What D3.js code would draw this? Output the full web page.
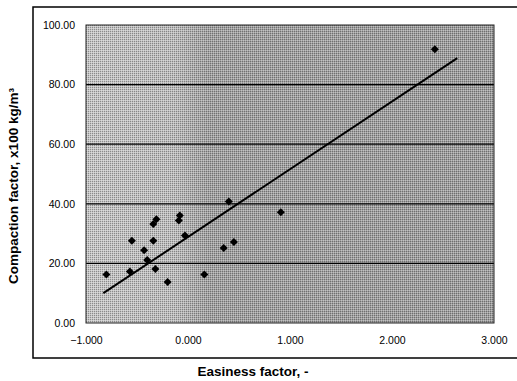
<!DOCTYPE html>
<html>
<head>
<meta charset="utf-8">
<script src="https://cdn.jsdelivr.net/npm/d3@7"></script>
<style>
  body { margin: 0; background: #fff; }
  text { font-family: "Liberation Sans", Arial, sans-serif; }
</style>
</head>
<body>
<div id="chart"></div>
<script>
// measured points (easiness factor, compaction factor)
const easiness = [-0.80, -0.55, -0.57, -0.43, -0.40, -0.34, -0.34, -0.31, -0.32, -0.20,
                  -0.09, -0.08, -0.03, 0.16, 0.35, 0.45, 0.40, 0.91, 2.42];
const compaction = [16.3, 27.6, 17.3, 24.4, 21.1, 27.6, 33.2, 34.8, 18.1, 13.8,
                    34.4, 36.1, 29.4, 16.3, 25.2, 27.2, 40.8, 37.2, 91.9];
// trend line end points
const fitX = [-0.83, 2.64];
const fitY = [10.0, 88.9];
const xTicks = [-1, 0, 1, 2, 3];
const yTicks = [0, 20, 40, 60, 80, 100];

const width = 517, height = 381;
const margin = { top: 25, right: 23, bottom: 58, left: 86 };
const w = width - margin.left - margin.right;
const h = height - margin.top - margin.bottom;

const svg = d3.select('#chart').append('svg')
  .attr('width', width)
  .attr('height', height);

// outer frame (right side runs off the page)
svg.append('rect')
  .attr('x', 33).attr('y', 7)
  .attr('width', 500).attr('height', 351)
  .attr('fill', 'none')
  .attr('stroke', '#000')
  .attr('stroke-width', 1.5);

const defs = svg.append('defs');
const grad = defs.append('linearGradient').attr('id', 'bg');
grad.append('stop').attr('offset', '0%').attr('stop-color', '#c8c8c8');
grad.append('stop').attr('offset', '22%').attr('stop-color', '#bdbdbd');
grad.append('stop').attr('offset', '30%').attr('stop-color', '#a2a2a2');
grad.append('stop').attr('offset', '100%').attr('stop-color', '#9e9e9e');

const pat = defs.append('pattern').attr('id', 'dither')
  .attr('width', 2).attr('height', 2)
  .attr('patternUnits', 'userSpaceOnUse');
pat.append('rect').attr('width', 1).attr('height', 1).attr('fill', '#000').attr('opacity', 0.3);
pat.append('rect').attr('x', 1).attr('y', 1).attr('width', 1).attr('height', 1).attr('fill', '#fff').attr('opacity', 0.35);

const chart = svg.append('g')
  .attr('transform', `translate(${margin.left}, ${margin.top})`);

const x = d3.scaleLinear().domain([-1, 3]).range([0, w]);
const y = d3.scaleLinear().domain([0, 100]).range([h, 0]);

chart.append('rect')
  .attr('width', w).attr('height', h)
  .attr('fill', 'url(#bg)');
chart.append('rect')
  .attr('width', w).attr('height', h)
  .attr('fill', 'url(#dither)');

// gridlines
chart.selectAll('.grid')
  .data(yTicks.filter(d => d > 0 && d < 100))
  .enter().append('line')
  .attr('class', 'grid')
  .attr('x1', 0).attr('x2', w)
  .attr('y1', d => y(d)).attr('y2', d => y(d))
  .attr('stroke', '#000')
  .attr('stroke-width', 1.2);

chart.append('rect')
  .attr('width', w).attr('height', h)
  .attr('fill', 'none')
  .attr('stroke', '#222')
  .attr('stroke-width', 1);

const xAxis = chart.append('g')
  .attr('transform', `translate(0, ${h})`)
  .call(d3.axisBottom(x).tickValues(xTicks).tickSize(0).tickPadding(14)
    .tickFormat(d => (d < 0 ? '\u2212' : '') + Math.abs(d).toFixed(3)));
const yAxis = chart.append('g')
  .call(d3.axisLeft(y).tickValues(yTicks).tickSize(0).tickPadding(11)
    .tickFormat(d => d.toFixed(2)));
[xAxis, yAxis].forEach(a => {
  a.select('.domain').remove();
  a.selectAll('text')
    .attr('font-family', '"Liberation Sans", Arial, sans-serif')
    .attr('font-size', '10.5px')
    .attr('fill', '#000');
});

// trend line
chart.append('path')
  .datum(fitX.map((d, i) => [d, fitY[i]]))
  .attr('fill', 'none')
  .attr('stroke', '#000')
  .attr('stroke-width', 2)
  .attr('d', d3.line().x(d => x(d[0])).y(d => y(d[1])));

// points
chart.selectAll('.pt')
  .data(easiness.map((d, i) => [d, compaction[i]]))
  .enter().append('path')
  .attr('class', 'pt')
  .attr('transform', d => `translate(${x(d[0])}, ${y(d[1])}) rotate(45)`)
  .attr('d', d3.symbol().type(d3.symbolSquare).size(32))
  .attr('fill', '#000');

svg.append('text')
  .attr('x', 253).attr('y', 376)
  .attr('text-anchor', 'middle')
  .attr('font-weight', 'bold')
  .attr('font-size', '13.5px')
  .text('Easiness factor, -');

svg.append('text')
  .attr('transform', 'translate(18, 186) rotate(-90)')
  .attr('text-anchor', 'middle')
  .attr('font-weight', 'bold')
  .attr('font-size', '13.5px')
  .text('Compaction factor, x100 kg/m\u00b3');
</script>
</body>
</html>
